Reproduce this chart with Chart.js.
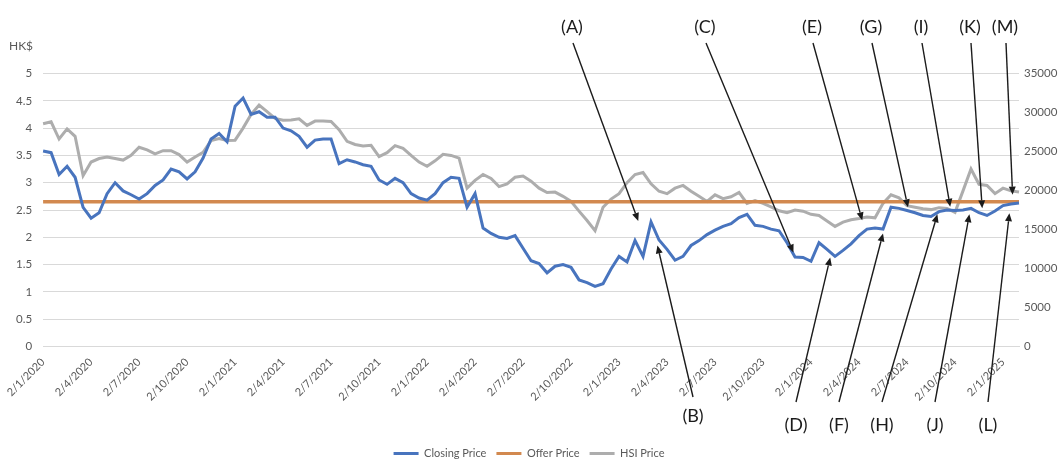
<!DOCTYPE html>
<html>
<head>
<meta charset="utf-8">
<script src="https://cdn.jsdelivr.net/npm/chart.js@4.4.1/dist/chart.umd.min.js"></script>
<style>
  html, body { margin: 0; padding: 0; background: #ffffff; }
  #wrap { width: 1058px; height: 459px; }
</style>
</head>
<body>
<div id="wrap"><canvas id="chart" width="1058" height="459"></canvas></div>
<script>
// Half-monthly observations, 2 Jan 2020 to 2 Feb 2025 (day/month/year)
const tickLabels = [
  '2/1/2020', '2/4/2020', '2/7/2020', '2/10/2020',
  '2/1/2021', '2/4/2021', '2/7/2021', '2/10/2021',
  '2/1/2022', '2/4/2022', '2/7/2022', '2/10/2022',
  '2/1/2023', '2/4/2023', '2/7/2023', '2/10/2023',
  '2/1/2024', '2/4/2024', '2/7/2024', '2/10/2024',
  '2/1/2025'
];

// Closing price, HK$
const closingPrice = [
  3.58, 3.55, 3.15, 3.30, 3.10, 2.55, 2.35, 2.45, 2.80, 3.00, 2.85, 2.78,
  2.70, 2.80, 2.95, 3.05, 3.25, 3.20, 3.07, 3.20, 3.45, 3.80, 3.90, 3.75,
  4.40, 4.55, 4.25, 4.30, 4.20, 4.20, 4.00, 3.95, 3.85, 3.65, 3.78, 3.80,
  3.80, 3.35, 3.42, 3.38, 3.33, 3.30, 3.05, 2.97, 3.08, 3.00, 2.80, 2.72,
  2.68, 2.80, 3.00, 3.10, 3.08, 2.55, 2.80, 2.17, 2.07, 2.00, 1.98, 2.03,
  1.80, 1.57, 1.52, 1.35, 1.47, 1.50, 1.45, 1.22, 1.17, 1.10, 1.15, 1.42,
  1.65, 1.55, 1.94, 1.65, 2.28, 1.95, 1.78, 1.58, 1.65, 1.85, 1.94, 2.05,
  2.13, 2.20, 2.25, 2.36, 2.42, 2.22, 2.20, 2.15, 2.12, 1.90, 1.64, 1.63,
  1.56, 1.90, 1.78, 1.65, 1.76, 1.88, 2.03, 2.15, 2.17, 2.15, 2.55, 2.53,
  2.49, 2.45, 2.40, 2.38, 2.47, 2.50, 2.49, 2.50, 2.53, 2.45, 2.40, 2.48,
  2.58, 2.61, 2.63
];

// Hang Seng Index level
const hsiPrice = [
  28560, 28800, 26600, 27900, 26950, 21900, 23650, 24100, 24300, 24100, 23900, 24500,
  25550, 25200, 24700, 25100, 25100, 24600, 23650, 24300, 24900, 26400, 26650, 26400,
  26450, 28000, 29750, 30950, 30100, 29250, 29000, 29050, 29200, 28350, 28900, 28900,
  28850, 27800, 26300, 25900, 25700, 25800, 24350, 24850, 25750, 25400, 24500, 23650,
  23100, 23800, 24650, 24500, 24150, 20300, 21300, 22050, 21550, 20500, 20850, 21700,
  21850, 21200, 20300, 19750, 19800, 19250, 18600, 17350, 16150, 14850, 17850, 18900,
  19600, 21000, 22050, 22300, 20850, 19900, 19600, 20300, 20650, 19900, 19250, 18600,
  19450, 18950, 19200, 19750, 18350, 18700, 18350, 17900, 17400, 17150, 17500, 17350,
  16950, 16800, 16100, 15400, 15950, 16250, 16400, 16600, 16500, 18350, 19450, 19050,
  18050, 17850, 17650, 17550, 17800, 17700, 17200, 19950, 22750, 20800, 20650, 19600,
  20300, 19950, 19800
];

// Offer price, HK$
const offerPrice = 2.65;

// Annotated points: letter, month offset from 2 Jan 2020, price level (HK$)
const noteLetters = ['(A)', '(B)', '(C)', '(D)', '(E)', '(F)', '(G)', '(H)', '(I)', '(J)', '(K)', '(L)', '(M)'];
const noteMonths  = [37.2, 38.4, 46.9, 49.2, 51.2, 52.5, 54.06, 55.9, 56.7, 57.9, 58.7, 60.4, 60.6];
const notePrices  = [2.30, 1.85, 1.72, 1.63, 2.31, 2.07, 2.55, 2.42, 2.56, 2.42, 2.53, 2.44, 2.78];

// Category labels: the 2nd and 16th of each month
const dates = [];
for (let i = 0; i < closingPrice.length; i++) {
  const year = 2020 + Math.floor(i / 24);
  const month = Math.floor((i % 24) / 2) + 1;
  const day = i % 2 ? 16 : 2;
  dates.push(day + '/' + month + '/' + year);
}

const FONT = 'Lato, "Liberation Sans", Arial, sans-serif';
const TEXT = '#595959';
const GRID = '#D9D9D9';
const BLUE = '#4874BE';
const ORANGE = '#D2894F';
const GREY = '#ADADAD';

// Letter placement around the plot (text centre x, which side)
const noteLayout = [
  { x: 572, side: 'top' },  { x: 693, side: 'bottom', y: 416, end: 397 },
  { x: 705, side: 'top' },  { x: 796, side: 'bottom' },
  { x: 812, side: 'top' },  { x: 839, side: 'bottom' },
  { x: 871, side: 'top' },  { x: 882, side: 'bottom' },
  { x: 921, side: 'top' },  { x: 935, side: 'bottom' },
  { x: 970, side: 'top' },  { x: 988, side: 'bottom' },
  { x: 1005, side: 'top' }
];

const notesPlugin = {
  id: 'arrowNotes',
  afterDatasetsDraw(chart) {
    const { ctx } = chart;
    const xs = chart.scales.x;
    const ys = chart.scales.price;
    ctx.save();
    // unit label of the left axis
    ctx.font = '12px ' + FONT;
    ctx.fillStyle = TEXT;
    ctx.textAlign = 'left';
    ctx.textBaseline = 'middle';
    ctx.fillText('HK$', 9, 46);

    noteLetters.forEach((letter, i) => {
      const lay = noteLayout[i];
      const tipX = xs.getPixelForValue(noteMonths[i] * 2);
      const tipY = ys.getPixelForValue(notePrices[i]);
      const isTop = lay.side === 'top';
      const textY = isTop ? 27 : (lay.y || 425);
      const startX = lay.x + (isTop ? 1 : 0);
      const startY = isTop ? 43 : (lay.end || 402);

      const ang = Math.atan2(tipY - startY, tipX - startX);
      const headLen = 8, headHalf = 3.5;
      const baseX = tipX - headLen * Math.cos(ang);
      const baseY = tipY - headLen * Math.sin(ang);

      ctx.strokeStyle = '#1b1b1b';
      ctx.lineWidth = 1.4;
      ctx.beginPath();
      ctx.moveTo(startX, startY);
      ctx.lineTo(baseX, baseY);
      ctx.stroke();

      ctx.fillStyle = '#1b1b1b';
      ctx.beginPath();
      ctx.moveTo(tipX, tipY);
      ctx.lineTo(baseX + headHalf * Math.sin(ang), baseY - headHalf * Math.cos(ang));
      ctx.lineTo(baseX - headHalf * Math.sin(ang), baseY + headHalf * Math.cos(ang));
      ctx.closePath();
      ctx.fill();

      ctx.font = '18px ' + FONT;
      ctx.fillStyle = '#1b1b1b';
      ctx.textAlign = 'center';
      ctx.textBaseline = 'middle';
      ctx.fillText(letter, lay.x, textY);
    });
    ctx.restore();
  }
};

new Chart(document.getElementById('chart'), {
  type: 'line',
  data: {
    labels: dates,
    datasets: [
      {
        label: 'Closing Price', data: closingPrice, yAxisID: 'price',
        borderColor: BLUE, backgroundColor: BLUE, borderWidth: 3,
        pointRadius: 0, tension: 0
      },
      {
        label: 'Offer Price', data: dates.map(() => offerPrice), yAxisID: 'price',
        borderColor: ORANGE, backgroundColor: ORANGE, borderWidth: 3.5,
        pointRadius: 0, tension: 0
      },
      {
        label: 'HSI Price', data: hsiPrice, yAxisID: 'hsi',
        borderColor: GREY, backgroundColor: GREY, borderWidth: 3,
        pointRadius: 0, tension: 0
      }
    ]
  },
  options: {
    responsive: false,
    animation: false,
    devicePixelRatio: 1,
    layout: { padding: { top: 73.5, left: 0, right: 0, bottom: -10 } },
    plugins: {
      tooltip: { enabled: false },
      legend: {
        position: 'bottom',
        labels: {
          boxWidth: 25, boxHeight: 3, padding: 10,
          color: TEXT, font: { family: FONT, size: 11 },
          generateLabels(chart) {
            return Chart.defaults.plugins.legend.labels.generateLabels(chart)
              .map(item => Object.assign(item, { lineWidth: 0, fillStyle: item.strokeStyle }));
          }
        }
      }
    },
    scales: {
      x: {
        type: 'category',
        grid: { display: false, drawTicks: false },
        border: { display: true, color: GRID, width: 1 },
        ticks: {
          autoSkip: false, minRotation: 45, maxRotation: 45, padding: 9,
          color: TEXT, font: { family: FONT, size: 11 },
          callback(value, index) { return index % 6 === 0 ? tickLabels[index / 6] : null; }
        },
        afterFit(scale) { scale.height = 91.5; }
      },
      price: {
        position: 'left', min: 0, max: 5,
        grid: { color: GRID, lineWidth: 1, drawTicks: false },
        border: { display: false },
        ticks: {
          stepSize: 0.5, padding: 11, color: TEXT, font: { family: FONT, size: 11.5 },
          callback(value) { return String(Math.round(value * 10) / 10); }
        },
        afterFit(scale) { scale.width = 43; }
      },
      hsi: {
        position: 'right', min: 0, max: 35000,
        grid: { display: false, drawTicks: false },
        border: { display: false },
        ticks: {
          stepSize: 5000, padding: 5, color: TEXT, font: { family: FONT, size: 11.5 },
          callback(value) { return String(value); }
        },
        afterFit(scale) { scale.width = 39; }
      }
    }
  },
  plugins: [notesPlugin]
});
</script>
</body>
</html>
